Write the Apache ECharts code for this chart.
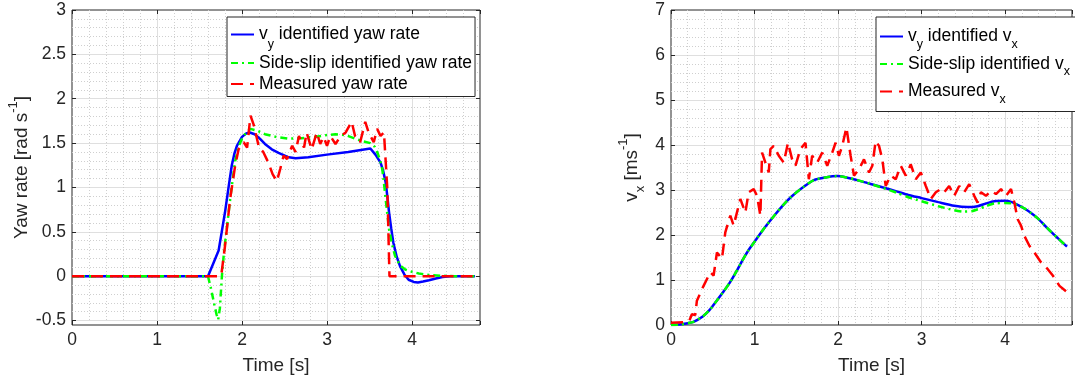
<!DOCTYPE html>
<html>
<head>
<meta charset="utf-8">
<script src="https://cdn.jsdelivr.net/npm/echarts@6/dist/echarts.min.js"></script>
<style>
  html, body { margin: 0; padding: 0; background: #ffffff; }
  #chart { width: 1075px; height: 381px; }
</style>
</head>
<body>
<div id="chart"></div>
<script>
// ---- Yaw rate panel: [time (s), yaw rate (rad/s)] ----
const yawVy = [[0,0],[1.60,0],[1.725,0.29],[1.76,0.49],[1.80,0.72],[1.84,0.99],[1.88,1.25],[1.91,1.38],[1.94,1.47],[2.0,1.57],[2.05,1.61],[2.09,1.62],[2.15,1.60],[2.21,1.55],[2.27,1.49],[2.35,1.43],[2.43,1.39],[2.55,1.34],[2.63,1.33],[2.78,1.34],[3.0,1.37],[3.25,1.40],[3.51,1.44],[3.57,1.37],[3.63,1.28],[3.66,1.19],[3.69,1.06],[3.71,0.90],[3.73,0.72],[3.755,0.54],[3.78,0.38],[3.82,0.22],[3.86,0.11],[3.91,0.02],[3.96,-0.04],[4.02,-0.065],[4.07,-0.07],[4.13,-0.06],[4.2,-0.045],[4.28,-0.025],[4.36,-0.01],[4.45,0],[4.74,0]];
const yawSideSlip = [[0,0],[1.60,0],[1.635,-0.14],[1.67,-0.30],[1.70,-0.43],[1.72,-0.49],[1.74,-0.36],[1.765,0.02],[1.79,0.29],[1.82,0.53],[1.85,0.78],[1.875,0.98],[1.90,1.16],[1.92,1.30],[1.96,1.46],[2.0,1.55],[2.05,1.62],[2.1,1.66],[2.18,1.64],[2.27,1.60],[2.4,1.57],[2.55,1.55],[2.7,1.555],[2.85,1.57],[3.0,1.59],[3.1,1.60],[3.22,1.59],[3.33,1.55],[3.42,1.52],[3.51,1.50],[3.56,1.46],[3.59,1.40],[3.62,1.32],[3.65,1.21],[3.67,1.05],[3.69,0.87],[3.71,0.70],[3.73,0.53],[3.76,0.38],[3.8,0.23],[3.86,0.12],[3.92,0.075],[4.0,0.05],[4.08,0.03],[4.2,0.015],[4.35,0.005],[4.5,0],[4.74,0]];
const yawMeasured = [[0,0],[1.74,0],[1.76,0.04],[1.80,0.34],[1.86,0.87],[1.92,1.25],[1.96,1.43],[2.02,1.51],[2.06,1.45],[2.10,1.81],[2.14,1.70],[2.20,1.45],[2.25,1.40],[2.31,1.28],[2.36,1.15],[2.41,1.07],[2.45,1.21],[2.49,1.36],[2.53,1.32],[2.59,1.47],[2.63,1.40],[2.67,1.58],[2.73,1.45],[2.76,1.62],[2.82,1.43],[2.88,1.62],[2.92,1.49],[2.96,1.57],[3.0,1.47],[3.04,1.58],[3.10,1.49],[3.16,1.58],[3.22,1.62],[3.29,1.74],[3.33,1.58],[3.39,1.51],[3.45,1.74],[3.49,1.62],[3.55,1.51],[3.59,1.66],[3.63,1.58],[3.67,1.62],[3.71,0.98],[3.735,0],[4.74,0]];

// ---- Longitudinal speed panel: [time (s), vx (m/s)] ----
const vxVy = [[0,0],[0.1,0.01],[0.2,0.04],[0.27,0.07],[0.38,0.19],[0.46,0.33],[0.54,0.52],[0.62,0.72],[0.70,0.93],[0.78,1.18],[0.85,1.42],[0.92,1.64],[1.0,1.85],[1.12,2.16],[1.24,2.44],[1.34,2.66],[1.44,2.85],[1.58,3.06],[1.71,3.22],[1.85,3.28],[1.99,3.31],[2.1,3.28],[2.23,3.22],[2.38,3.14],[2.53,3.06],[2.7,2.97],[2.84,2.89],[3.0,2.82],[3.2,2.73],[3.39,2.65],[3.55,2.62],[3.67,2.64],[3.77,2.70],[3.87,2.75],[4.0,2.76],[4.08,2.73],[4.15,2.67],[4.23,2.59],[4.31,2.49],[4.39,2.37],[4.47,2.22],[4.55,2.07],[4.63,1.93],[4.74,1.74]];
const vxSideSlip = [[0,0],[0.1,0.01],[0.2,0.04],[0.27,0.07],[0.38,0.19],[0.46,0.33],[0.54,0.52],[0.62,0.72],[0.70,0.93],[0.78,1.18],[0.85,1.42],[0.92,1.64],[1.0,1.85],[1.12,2.16],[1.24,2.44],[1.34,2.66],[1.44,2.85],[1.58,3.06],[1.71,3.22],[1.85,3.28],[1.99,3.31],[2.1,3.28],[2.23,3.22],[2.38,3.14],[2.53,3.05],[2.7,2.94],[2.84,2.84],[3.0,2.75],[3.2,2.64],[3.39,2.55],[3.51,2.52],[3.6,2.53],[3.67,2.57],[3.77,2.64],[3.87,2.70],[4.0,2.71],[4.08,2.70],[4.15,2.66],[4.23,2.59],[4.31,2.49],[4.39,2.37],[4.47,2.22],[4.55,2.07],[4.63,1.93],[4.74,1.74]];
const vxMeasured = [[0,0.05],[0.15,0.06],[0.22,0.10],[0.25,0.24],[0.29,0.22],[0.31,0.54],[0.39,0.87],[0.47,1.17],[0.51,1.10],[0.55,1.61],[0.61,1.47],[0.65,2.06],[0.71,2.43],[0.75,2.21],[0.83,2.80],[0.89,2.50],[0.93,2.95],[0.99,3.02],[1.03,2.87],[1.07,2.43],[1.09,3.83],[1.13,3.61],[1.17,3.39],[1.19,3.91],[1.23,3.98],[1.29,3.76],[1.35,3.61],[1.40,4.05],[1.45,3.68],[1.49,3.54],[1.55,3.91],[1.61,4.05],[1.65,3.24],[1.69,3.76],[1.75,3.61],[1.81,3.83],[1.87,3.54],[1.93,3.83],[1.97,4.05],[2.01,3.76],[2.05,3.98],[2.10,4.39],[2.15,3.76],[2.19,3.32],[2.25,3.46],[2.31,3.68],[2.37,3.39],[2.41,3.54],[2.45,4.09],[2.49,3.98],[2.53,3.68],[2.57,3.09],[2.63,3.32],[2.69,3.24],[2.75,3.54],[2.81,3.32],[2.87,3.57],[2.93,3.24],[2.99,3.39],[3.05,3.09],[3.11,2.80],[3.17,2.95],[3.23,3.02],[3.27,2.95],[3.33,3.09],[3.39,2.87],[3.45,3.09],[3.51,2.95],[3.57,3.13],[3.63,2.87],[3.67,2.72],[3.71,2.95],[3.77,2.87],[3.83,2.98],[3.89,2.91],[3.95,3.02],[4.01,2.87],[4.07,3.02],[4.11,2.72],[4.15,2.35],[4.19,2.21],[4.23,1.98],[4.29,1.76],[4.35,1.61],[4.43,1.39],[4.51,1.24],[4.57,1.10],[4.65,0.87],[4.74,0.73]];

// ---- Axis ranges and tick steps ----
const timeRange = [0, 4.8];
const yawRange = [-0.55, 3];
const yawTickStart = -0.5;
const vxRange = [0, 7];

// Series names and their rich-text legend labels
const namesYaw = ['vy identified yaw rate', 'Side-slip identified yaw rate', 'Measured yaw rate'];
const namesVx = ['vy identified vx', 'Side-slip identified vx', 'Measured vx'];
const legendText = {
  'vy identified yaw rate': '{a|v}{s|y}{a| identified yaw rate}',
  'Side-slip identified yaw rate': '{n|Side-slip identified yaw rate}',
  'Measured yaw rate': '{n|Measured yaw rate}',
  'vy identified vx': '{m|v}{s|y}{m| identified v}{s|x}',
  'Side-slip identified vx': '{m|Side-slip identified v}{s|x}',
  'Measured vx': '{m|Measured v}{s|x}'
};

const FONT = '"Liberation Sans", Arial, Helvetica, sans-serif';
const AX = '#262626';
const MAJOR = '#dfdfdf';
const MINOR = '#cfcfcf';
const NONE = 'rgba(0,0,0,0)';
const TICK_FS = 17.5;
const NAME_FS = 19;

// panel boxes (px)
const boxL = { left: 72, top: 10, width: 408, height: 315 };
const boxR = { left: 671, top: 10, width: 409, height: 315 };
// the yaw grid-line layer spans -0.5..3 inside the -0.55..3 box
const yawLineH = boxL.height * (yawRange[1] - yawTickStart) / (yawRange[1] - yawRange[0]);

const hidden = {
  axisLine: { show: false, onZero: false },
  axisTick: { show: false },
  axisLabel: { show: false },
  splitLine: { show: false }
};
const tickStyle = { show: true, inside: true, length: 4, lineStyle: { color: AX, width: 1 } };
const labelStyle = { color: AX, fontFamily: FONT, fontSize: TICK_FS };
const intLabel = v => (Math.abs(v - Math.round(v)) < 1e-9 ? String(Math.round(v)) : '');

function majorSplit(showMin, showMax) {
  return { show: true, showMinLine: showMin, showMaxLine: showMax, lineStyle: { color: MAJOR, width: 1, type: 'solid' } };
}
function minorSplit() {
  return { show: true, showMaxLine: false, lineStyle: { color: [NONE, MINOR, MINOR, MINOR, MINOR], width: 1, type: [1, 2] } };
}

const xAxis = [
  // 0: yaw panel, major vertical grid lines
  Object.assign({}, hidden, { type: 'value', gridIndex: 0, position: 'bottom', min: timeRange[0], max: timeRange[1], interval: 1, splitLine: majorSplit(false, false) }),
  // 1: yaw panel, minor vertical grid lines
  Object.assign({}, hidden, { type: 'value', gridIndex: 0, position: 'bottom', min: timeRange[0], max: timeRange[1], interval: 0.2, splitLine: minorSplit() }),
  // 2: yaw panel, bottom time axis
  Object.assign({}, hidden, {
    type: 'value', gridIndex: 1, position: 'bottom', min: timeRange[0], max: timeRange[1], interval: 1,
    axisTick: tickStyle, axisLabel: Object.assign({ show: true, margin: 6, formatter: intLabel }, labelStyle),
    name: 'Time [s]', nameLocation: 'middle', nameGap: 31,
    nameTextStyle: { color: AX, fontFamily: FONT, fontSize: NAME_FS }
  }),
  // 3: yaw panel, top ticks
  Object.assign({}, hidden, { type: 'value', gridIndex: 1, position: 'top', min: timeRange[0], max: timeRange[1], interval: 1, axisTick: tickStyle }),
  // 4: vx panel, bottom time axis with major grid lines
  Object.assign({}, hidden, {
    type: 'value', gridIndex: 2, position: 'bottom', min: timeRange[0], max: timeRange[1], interval: 1,
    axisTick: tickStyle, axisLabel: Object.assign({ show: true, margin: 6, formatter: intLabel }, labelStyle),
    splitLine: majorSplit(false, false),
    name: 'Time [s]', nameLocation: 'middle', nameGap: 31,
    nameTextStyle: { color: AX, fontFamily: FONT, fontSize: NAME_FS }
  }),
  // 5: vx panel, minor vertical grid lines
  Object.assign({}, hidden, { type: 'value', gridIndex: 2, position: 'bottom', min: timeRange[0], max: timeRange[1], interval: 0.2, splitLine: minorSplit() }),
  // 6: vx panel, top ticks
  Object.assign({}, hidden, { type: 'value', gridIndex: 2, position: 'top', min: timeRange[0], max: timeRange[1], interval: 1, axisTick: tickStyle })
];

const supRich = {
  m: { fontFamily: FONT, fontSize: NAME_FS, color: AX, lineHeight: 30 },
  s: { fontFamily: FONT, fontSize: 13, color: AX, lineHeight: 14, verticalAlign: 'bottom' },
  p: { fontFamily: FONT, fontSize: 13, color: AX, lineHeight: 14, verticalAlign: 'top' }
};

const yAxis = [
  // 0: yaw panel, labels, left ticks, major horizontal grid lines
  Object.assign({}, hidden, {
    type: 'value', gridIndex: 0, position: 'left', min: yawTickStart, max: yawRange[1], interval: 0.5,
    axisTick: tickStyle, axisLabel: Object.assign({ show: true, margin: 6 }, labelStyle),
    splitLine: majorSplit(true, false)
  }),
  // 1: yaw panel, minor horizontal grid lines
  Object.assign({}, hidden, { type: 'value', gridIndex: 0, position: 'left', min: yawTickStart, max: yawRange[1], interval: 0.1, splitLine: minorSplit() }),
  // 2: yaw panel, right ticks
  Object.assign({}, hidden, { type: 'value', gridIndex: 0, position: 'right', min: yawTickStart, max: yawRange[1], interval: 0.5, axisTick: tickStyle }),
  // 3: yaw panel, data axis and its title
  Object.assign({}, hidden, {
    type: 'value', gridIndex: 1, position: 'left', min: yawRange[0], max: yawRange[1],
    name: '{m|Yaw rate [rad s}{p|-1}{m|]}', nameLocation: 'middle', nameGap: 35,
    nameTextStyle: { rich: supRich }
  }),
  // 4: vx panel, labels, ticks, major grid lines, title
  Object.assign({}, hidden, {
    type: 'value', gridIndex: 2, position: 'left', min: vxRange[0], max: vxRange[1], interval: 1,
    axisTick: tickStyle, axisLabel: Object.assign({ show: true, margin: 6 }, labelStyle),
    splitLine: majorSplit(false, false),
    name: '{m|v}{s|x}{m| [ms}{p|-1}{m|]}', nameLocation: 'middle', nameGap: 24,
    nameTextStyle: { rich: supRich }
  }),
  // 5: vx panel, minor horizontal grid lines
  Object.assign({}, hidden, { type: 'value', gridIndex: 2, position: 'left', min: vxRange[0], max: vxRange[1], interval: 0.2, splitLine: minorSplit() })
];

const BLUE = '#0000ff', GREEN = '#00ff00', RED = '#ff0000';
const LW = 2.5;
const dashDot = [7, 4, 2, 4];
const dashed = [12, 7];

function line(name, data, xi, yi, color, type, z, smooth) {
  return {
    type: 'line', name, data, xAxisIndex: xi, yAxisIndex: yi,
    symbol: 'none', smooth: smooth || false, z,
    lineStyle: { color, width: LW, type },
    itemStyle: { color },
    emphasis: { disabled: true }
  };
}

const series = [
  line(namesYaw[0], yawVy, 2, 3, BLUE, 'solid', 2),
  line(namesYaw[1], yawSideSlip, 2, 3, GREEN, dashDot, 3),
  line(namesYaw[2], yawMeasured, 2, 3, RED, dashed, 4),
  line(namesVx[0], vxVy, 4, 4, BLUE, 'solid', 2, 0.25),
  line(namesVx[1], vxSideSlip, 4, 4, GREEN, dashDot, 3, 0.25),
  line(namesVx[2], vxMeasured, 4, 4, RED, dashed, 4)
];

const legendRich = {
  a: { fontFamily: FONT, fontSize: 17.5, color: '#000', lineHeight: 33 },
  m: { fontFamily: FONT, fontSize: 17.5, color: '#000', lineHeight: 29 },
  n: { fontFamily: FONT, fontSize: 17.5, color: '#000', lineHeight: 21 },
  s: { fontFamily: FONT, fontSize: 12.5, color: '#000', lineHeight: 14, verticalAlign: 'bottom' }
};
function legend(names, left, gap, padding) {
  return {
    data: names, left, top: 17, orient: 'vertical', align: 'left',
    itemWidth: 23, itemHeight: 14, itemGap: gap, padding,
    backgroundColor: '#ffffff', borderColor: AX, borderWidth: 1, borderRadius: 0,
    selectedMode: false, inactiveColor: '#000',
    formatter: n => legendText[n],
    textStyle: { fontFamily: FONT, fontSize: 17.5, color: '#000', rich: legendRich },
    itemStyle: { opacity: 0 }
  };
}

const option = {
  animation: false,
  backgroundColor: '#ffffff',
  grid: [
    { left: boxL.left, top: boxL.top, width: boxL.width, height: yawLineH, show: false },
    { left: boxL.left, top: boxL.top, width: boxL.width, height: boxL.height, show: true, borderColor: AX, borderWidth: 1, backgroundColor: 'transparent' },
    { left: boxR.left, top: boxR.top, width: boxR.width, height: boxR.height, show: true, borderColor: AX, borderWidth: 1, backgroundColor: 'transparent' }
  ],
  xAxis, yAxis, series,
  legend: [
    legend(namesYaw, 227, 3, [8.5, 3, 3.5, 3]),
    legend(namesVx, 876, 4, [10.5, 7, 5.5, 3])
  ]
};

const chart = echarts.init(document.getElementById('chart'), null, { renderer: 'canvas' });
chart.setOption(option);
</script>
</body>
</html>
